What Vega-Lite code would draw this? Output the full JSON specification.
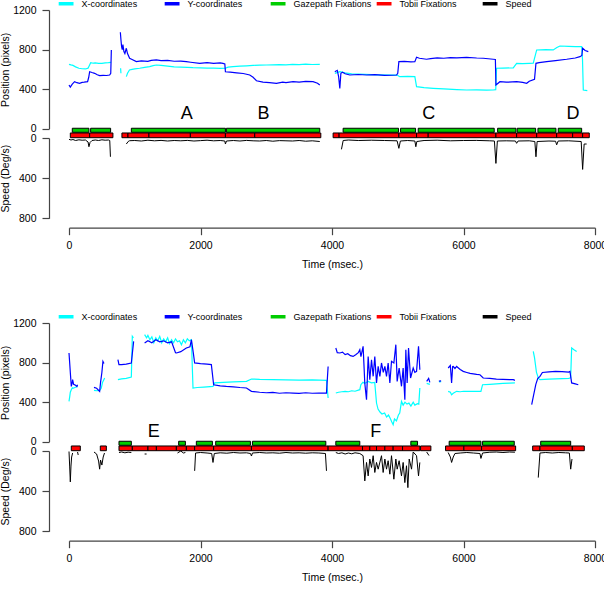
{
  "$schema": "https://vega.github.io/schema/vega-lite/v6.json",
  "padding": {"top": -6, "left": 0, "right": 0, "bottom": 0},
  "background": "white",
  "datasets": {
    "top_pos": [
      {"t":0,"v":651,"series":"X-coordinates","seg":"1"},{"t":30,"v":645,"series":"X-coordinates","seg":"1"},{"t":60,"v":640,"series":"X-coordinates","seg":"1"},{"t":100,"v":625,"series":"X-coordinates","seg":"1"},{"t":150,"v":611,"series":"X-coordinates","seg":"1"},{"t":200,"v":606,"series":"X-coordinates","seg":"1"},{"t":250,"v":604,"series":"X-coordinates","seg":"1"},{"t":290,"v":612,"series":"X-coordinates","seg":"1"},{"t":310,"v":640,"series":"X-coordinates","seg":"1"},{"t":330,"v":668,"series":"X-coordinates","seg":"1"},{"t":370,"v":662,"series":"X-coordinates","seg":"1"},{"t":400,"v":665,"series":"X-coordinates","seg":"1"},{"t":450,"v":660,"series":"X-coordinates","seg":"1"},{"t":500,"v":661,"series":"X-coordinates","seg":"1"},{"t":550,"v":666,"series":"X-coordinates","seg":"1"},{"t":600,"v":668,"series":"X-coordinates","seg":"1"},{"t":640,"v":671,"series":"X-coordinates","seg":"1"},
      {"t":785,"v":611,"series":"X-coordinates","seg":"2a"},{"t":790,"v":560,"series":"X-coordinates","seg":"2a"},
      {"t":872,"v":526,"series":"X-coordinates","seg":"2"},{"t":890,"v":560,"series":"X-coordinates","seg":"2"},{"t":920,"v":594,"series":"X-coordinates","seg":"2"},{"t":960,"v":600,"series":"X-coordinates","seg":"2"},{"t":1000,"v":605,"series":"X-coordinates","seg":"2"},{"t":1075,"v":611,"series":"X-coordinates","seg":"2"},{"t":1150,"v":620,"series":"X-coordinates","seg":"2"},{"t":1227,"v":627,"series":"X-coordinates","seg":"2"},{"t":1280,"v":637,"series":"X-coordinates","seg":"2"},{"t":1329,"v":644,"series":"X-coordinates","seg":"2"},{"t":1400,"v":640,"series":"X-coordinates","seg":"2"},{"t":1500,"v":632,"series":"X-coordinates","seg":"2"},{"t":1600,"v":625,"series":"X-coordinates","seg":"2"},{"t":1700,"v":622,"series":"X-coordinates","seg":"2"},{"t":1800,"v":620,"series":"X-coordinates","seg":"2"},{"t":1886,"v":617,"series":"X-coordinates","seg":"2"},{"t":2000,"v":615,"series":"X-coordinates","seg":"2"},{"t":2100,"v":613,"series":"X-coordinates","seg":"2"},{"t":2200,"v":612,"series":"X-coordinates","seg":"2"},{"t":2300,"v":610,"series":"X-coordinates","seg":"2"},{"t":2379,"v":611,"series":"X-coordinates","seg":"2"},{"t":2420,"v":622,"series":"X-coordinates","seg":"2"},{"t":2495,"v":627,"series":"X-coordinates","seg":"2"},{"t":2600,"v":632,"series":"X-coordinates","seg":"2"},{"t":2700,"v":636,"series":"X-coordinates","seg":"2"},{"t":2800,"v":640,"series":"X-coordinates","seg":"2"},{"t":2900,"v":643,"series":"X-coordinates","seg":"2"},{"t":3003,"v":644,"series":"X-coordinates","seg":"2"},{"t":3100,"v":646,"series":"X-coordinates","seg":"2"},{"t":3200,"v":648,"series":"X-coordinates","seg":"2"},{"t":3300,"v":645,"series":"X-coordinates","seg":"2"},{"t":3400,"v":650,"series":"X-coordinates","seg":"2"},{"t":3500,"v":648,"series":"X-coordinates","seg":"2"},{"t":3600,"v":652,"series":"X-coordinates","seg":"2"},{"t":3700,"v":649,"series":"X-coordinates","seg":"2"},{"t":3814,"v":651,"series":"X-coordinates","seg":"2"},
      {"t":4043,"v":560,"series":"X-coordinates","seg":"3"},{"t":4119,"v":576,"series":"X-coordinates","seg":"3"},{"t":4200,"v":565,"series":"X-coordinates","seg":"3"},{"t":4300,"v":555,"series":"X-coordinates","seg":"3"},{"t":4500,"v":550,"series":"X-coordinates","seg":"3"},{"t":4700,"v":545,"series":"X-coordinates","seg":"3"},{"t":4900,"v":542,"series":"X-coordinates","seg":"3"},{"t":4990,"v":543,"series":"X-coordinates","seg":"3"},{"t":5030,"v":526,"series":"X-coordinates","seg":"3"},{"t":5150,"v":528,"series":"X-coordinates","seg":"3"},{"t":5260,"v":526,"series":"X-coordinates","seg":"3"},{"t":5286,"v":425,"series":"X-coordinates","seg":"3"},{"t":5400,"v":415,"series":"X-coordinates","seg":"3"},{"t":5539,"v":408,"series":"X-coordinates","seg":"3"},{"t":5700,"v":402,"series":"X-coordinates","seg":"3"},{"t":5900,"v":395,"series":"X-coordinates","seg":"3"},{"t":6047,"v":391,"series":"X-coordinates","seg":"3"},{"t":6200,"v":393,"series":"X-coordinates","seg":"3"},{"t":6350,"v":390,"series":"X-coordinates","seg":"3"},{"t":6452,"v":391,"series":"X-coordinates","seg":"3"},{"t":6490,"v":395,"series":"X-coordinates","seg":"3"},{"t":6503,"v":611,"series":"X-coordinates","seg":"3"},{"t":6600,"v":612,"series":"X-coordinates","seg":"3"},{"t":6757,"v":615,"series":"X-coordinates","seg":"3"},{"t":6808,"v":661,"series":"X-coordinates","seg":"3"},{"t":6900,"v":658,"series":"X-coordinates","seg":"3"},{"t":7000,"v":660,"series":"X-coordinates","seg":"3"},{"t":7061,"v":662,"series":"X-coordinates","seg":"3"},{"t":7113,"v":796,"series":"X-coordinates","seg":"3"},{"t":7250,"v":800,"series":"X-coordinates","seg":"3"},{"t":7365,"v":796,"series":"X-coordinates","seg":"3"},{"t":7420,"v":820,"series":"X-coordinates","seg":"3"},{"t":7467,"v":836,"series":"X-coordinates","seg":"3"},{"t":7600,"v":832,"series":"X-coordinates","seg":"3"},{"t":7700,"v":830,"series":"X-coordinates","seg":"3"},{"t":7797,"v":829,"series":"X-coordinates","seg":"3"},{"t":7810,"v":700,"series":"X-coordinates","seg":"3"},{"t":7822,"v":391,"series":"X-coordinates","seg":"3"},{"t":7883,"v":385,"series":"X-coordinates","seg":"3"},
      {"t":0,"v":442,"series":"Y-coordinates","seg":"1"},{"t":20,"v":420,"series":"Y-coordinates","seg":"1"},{"t":50,"v":450,"series":"Y-coordinates","seg":"1"},{"t":85,"v":475,"series":"Y-coordinates","seg":"1"},{"t":120,"v":465,"series":"Y-coordinates","seg":"1"},{"t":161,"v":459,"series":"Y-coordinates","seg":"1"},{"t":200,"v":468,"series":"Y-coordinates","seg":"1"},{"t":230,"v":470,"series":"Y-coordinates","seg":"1"},{"t":283,"v":475,"series":"Y-coordinates","seg":"1"},{"t":300,"v":520,"series":"Y-coordinates","seg":"1"},{"t":314,"v":576,"series":"Y-coordinates","seg":"1"},{"t":350,"v":568,"series":"Y-coordinates","seg":"1"},{"t":390,"v":560,"series":"Y-coordinates","seg":"1"},{"t":430,"v":545,"series":"Y-coordinates","seg":"1"},{"t":466,"v":536,"series":"Y-coordinates","seg":"1"},{"t":520,"v":540,"series":"Y-coordinates","seg":"1"},{"t":570,"v":538,"series":"Y-coordinates","seg":"1"},{"t":618,"v":543,"series":"Y-coordinates","seg":"1"},{"t":635,"v":560,"series":"Y-coordinates","seg":"1"},{"t":644,"v":796,"series":"Y-coordinates","seg":"1"},
      {"t":781,"v":975,"series":"Y-coordinates","seg":"2"},{"t":790,"v":900,"series":"Y-coordinates","seg":"2"},{"t":800,"v":829,"series":"Y-coordinates","seg":"2"},{"t":810,"v":800,"series":"Y-coordinates","seg":"2"},{"t":820,"v":850,"series":"Y-coordinates","seg":"2"},{"t":835,"v":780,"series":"Y-coordinates","seg":"2"},{"t":850,"v":760,"series":"Y-coordinates","seg":"2"},{"t":872,"v":813,"series":"Y-coordinates","seg":"2"},{"t":890,"v":760,"series":"Y-coordinates","seg":"2"},{"t":922,"v":712,"series":"Y-coordinates","seg":"2"},{"t":960,"v":700,"series":"Y-coordinates","seg":"2"},{"t":1024,"v":678,"series":"Y-coordinates","seg":"2"},{"t":1100,"v":685,"series":"Y-coordinates","seg":"2"},{"t":1200,"v":680,"series":"Y-coordinates","seg":"2"},{"t":1250,"v":690,"series":"Y-coordinates","seg":"2"},{"t":1329,"v":695,"series":"Y-coordinates","seg":"2"},{"t":1400,"v":688,"series":"Y-coordinates","seg":"2"},{"t":1500,"v":690,"series":"Y-coordinates","seg":"2"},{"t":1600,"v":682,"series":"Y-coordinates","seg":"2"},{"t":1700,"v":684,"series":"Y-coordinates","seg":"2"},{"t":1785,"v":678,"series":"Y-coordinates","seg":"2"},{"t":1850,"v":672,"series":"Y-coordinates","seg":"2"},{"t":1988,"v":661,"series":"Y-coordinates","seg":"2"},{"t":2100,"v":668,"series":"Y-coordinates","seg":"2"},{"t":2200,"v":660,"series":"Y-coordinates","seg":"2"},{"t":2300,"v":665,"series":"Y-coordinates","seg":"2"},{"t":2342,"v":661,"series":"Y-coordinates","seg":"2"},{"t":2370,"v":655,"series":"Y-coordinates","seg":"2"},{"t":2379,"v":576,"series":"Y-coordinates","seg":"2"},{"t":2450,"v":572,"series":"Y-coordinates","seg":"2"},{"t":2550,"v":565,"series":"Y-coordinates","seg":"2"},{"t":2650,"v":558,"series":"Y-coordinates","seg":"2"},{"t":2749,"v":543,"series":"Y-coordinates","seg":"2"},{"t":2800,"v":520,"series":"Y-coordinates","seg":"2"},{"t":2851,"v":485,"series":"Y-coordinates","seg":"2"},{"t":2950,"v":470,"series":"Y-coordinates","seg":"2"},{"t":3050,"v":465,"series":"Y-coordinates","seg":"2"},{"t":3155,"v":459,"series":"Y-coordinates","seg":"2"},{"t":3250,"v":470,"series":"Y-coordinates","seg":"2"},{"t":3300,"v":465,"series":"Y-coordinates","seg":"2"},{"t":3408,"v":475,"series":"Y-coordinates","seg":"2"},{"t":3500,"v":470,"series":"Y-coordinates","seg":"2"},{"t":3600,"v":478,"series":"Y-coordinates","seg":"2"},{"t":3712,"v":475,"series":"Y-coordinates","seg":"2"},{"t":3780,"v":460,"series":"Y-coordinates","seg":"2"},{"t":3814,"v":442,"series":"Y-coordinates","seg":"2"},
      {"t":4043,"v":576,"series":"Y-coordinates","seg":"3"},{"t":4080,"v":590,"series":"Y-coordinates","seg":"3"},{"t":4100,"v":530,"series":"Y-coordinates","seg":"3"},{"t":4119,"v":408,"series":"Y-coordinates","seg":"3"},{"t":4135,"v":560,"series":"Y-coordinates","seg":"3"},{"t":4160,"v":570,"series":"Y-coordinates","seg":"3"},{"t":4200,"v":555,"series":"Y-coordinates","seg":"3"},{"t":4271,"v":543,"series":"Y-coordinates","seg":"3"},{"t":4400,"v":548,"series":"Y-coordinates","seg":"3"},{"t":4525,"v":543,"series":"Y-coordinates","seg":"3"},{"t":4650,"v":546,"series":"Y-coordinates","seg":"3"},{"t":4800,"v":540,"series":"Y-coordinates","seg":"3"},{"t":4982,"v":543,"series":"Y-coordinates","seg":"3"},{"t":5000,"v":560,"series":"Y-coordinates","seg":"3"},{"t":5017,"v":678,"series":"Y-coordinates","seg":"3"},{"t":5100,"v":680,"series":"Y-coordinates","seg":"3"},{"t":5200,"v":676,"series":"Y-coordinates","seg":"3"},{"t":5260,"v":678,"series":"Y-coordinates","seg":"3"},{"t":5286,"v":722,"series":"Y-coordinates","seg":"3"},{"t":5330,"v":712,"series":"Y-coordinates","seg":"3"},{"t":5438,"v":702,"series":"Y-coordinates","seg":"3"},{"t":5500,"v":708,"series":"Y-coordinates","seg":"3"},{"t":5600,"v":715,"series":"Y-coordinates","seg":"3"},{"t":5700,"v":712,"series":"Y-coordinates","seg":"3"},{"t":5800,"v":718,"series":"Y-coordinates","seg":"3"},{"t":5900,"v":716,"series":"Y-coordinates","seg":"3"},{"t":6047,"v":722,"series":"Y-coordinates","seg":"3"},{"t":6200,"v":715,"series":"Y-coordinates","seg":"3"},{"t":6300,"v":712,"series":"Y-coordinates","seg":"3"},{"t":6452,"v":702,"series":"Y-coordinates","seg":"3"},{"t":6485,"v":700,"series":"Y-coordinates","seg":"3"},{"t":6493,"v":442,"series":"Y-coordinates","seg":"3"},{"t":6554,"v":475,"series":"Y-coordinates","seg":"3"},{"t":6650,"v":470,"series":"Y-coordinates","seg":"3"},{"t":6808,"v":475,"series":"Y-coordinates","seg":"3"},{"t":6900,"v":468,"series":"Y-coordinates","seg":"3"},{"t":6961,"v":459,"series":"Y-coordinates","seg":"3"},{"t":7000,"v":480,"series":"Y-coordinates","seg":"3"},{"t":7080,"v":500,"series":"Y-coordinates","seg":"3"},{"t":7102,"v":661,"series":"Y-coordinates","seg":"3"},{"t":7150,"v":668,"series":"Y-coordinates","seg":"3"},{"t":7265,"v":678,"series":"Y-coordinates","seg":"3"},{"t":7400,"v":688,"series":"Y-coordinates","seg":"3"},{"t":7569,"v":702,"series":"Y-coordinates","seg":"3"},{"t":7700,"v":715,"series":"Y-coordinates","seg":"3"},{"t":7771,"v":728,"series":"Y-coordinates","seg":"3"},{"t":7800,"v":740,"series":"Y-coordinates","seg":"3"},{"t":7812,"v":813,"series":"Y-coordinates","seg":"3"},{"t":7850,"v":790,"series":"Y-coordinates","seg":"3"},{"t":7898,"v":779,"series":"Y-coordinates","seg":"3"}
    ],
    "top_speed": [
      {"t":0,"v":13,"seg":"1"},{"t":30,"v":20,"seg":"1"},{"t":60,"v":15,"seg":"1"},{"t":100,"v":25,"seg":"1"},{"t":150,"v":18,"seg":"1"},{"t":200,"v":22,"seg":"1"},{"t":250,"v":20,"seg":"1"},{"t":290,"v":40,"seg":"1"},{"t":303,"v":87,"seg":"1"},{"t":320,"v":45,"seg":"1"},{"t":350,"v":25,"seg":"1"},{"t":400,"v":20,"seg":"1"},{"t":450,"v":25,"seg":"1"},{"t":500,"v":18,"seg":"1"},{"t":550,"v":22,"seg":"1"},{"t":600,"v":20,"seg":"1"},{"t":620,"v":25,"seg":"1"},{"t":630,"v":187,"seg":"1"},
      {"t":872,"v":60,"seg":"2"},{"t":900,"v":35,"seg":"2"},{"t":922,"v":27,"seg":"2"},{"t":1000,"v":25,"seg":"2"},{"t":1100,"v":30,"seg":"2"},{"t":1200,"v":22,"seg":"2"},{"t":1300,"v":28,"seg":"2"},{"t":1400,"v":24,"seg":"2"},{"t":1500,"v":30,"seg":"2"},{"t":1600,"v":25,"seg":"2"},{"t":1700,"v":28,"seg":"2"},{"t":1800,"v":24,"seg":"2"},{"t":1900,"v":30,"seg":"2"},{"t":2000,"v":26,"seg":"2"},{"t":2100,"v":22,"seg":"2"},{"t":2200,"v":28,"seg":"2"},{"t":2300,"v":25,"seg":"2"},{"t":2370,"v":30,"seg":"2"},{"t":2379,"v":60,"seg":"2"},{"t":2395,"v":30,"seg":"2"},{"t":2500,"v":25,"seg":"2"},{"t":2600,"v":30,"seg":"2"},{"t":2700,"v":24,"seg":"2"},{"t":2800,"v":28,"seg":"2"},{"t":2900,"v":30,"seg":"2"},{"t":3000,"v":25,"seg":"2"},{"t":3100,"v":32,"seg":"2"},{"t":3200,"v":26,"seg":"2"},{"t":3300,"v":28,"seg":"2"},{"t":3400,"v":30,"seg":"2"},{"t":3500,"v":25,"seg":"2"},{"t":3600,"v":32,"seg":"2"},{"t":3700,"v":28,"seg":"2"},{"t":3814,"v":35,"seg":"2"},
      {"t":4144,"v":113,"seg":"3"},{"t":4170,"v":25,"seg":"3"},{"t":4250,"v":20,"seg":"3"},{"t":4400,"v":25,"seg":"3"},{"t":4600,"v":22,"seg":"3"},{"t":4800,"v":25,"seg":"3"},{"t":4990,"v":28,"seg":"3"},{"t":5017,"v":103,"seg":"3"},{"t":5040,"v":30,"seg":"3"},{"t":5150,"v":25,"seg":"3"},{"t":5260,"v":30,"seg":"3"},{"t":5275,"v":87,"seg":"3"},{"t":5290,"v":35,"seg":"3"},{"t":5400,"v":25,"seg":"3"},{"t":5600,"v":22,"seg":"3"},{"t":5800,"v":28,"seg":"3"},{"t":6000,"v":25,"seg":"3"},{"t":6200,"v":24,"seg":"3"},{"t":6400,"v":28,"seg":"3"},{"t":6470,"v":30,"seg":"3"},{"t":6493,"v":253,"seg":"3"},{"t":6515,"v":30,"seg":"3"},{"t":6650,"v":28,"seg":"3"},{"t":6790,"v":30,"seg":"3"},{"t":6808,"v":53,"seg":"3"},{"t":6830,"v":30,"seg":"3"},{"t":7000,"v":28,"seg":"3"},{"t":7085,"v":35,"seg":"3"},{"t":7102,"v":187,"seg":"3"},{"t":7120,"v":35,"seg":"3"},{"t":7300,"v":30,"seg":"3"},{"t":7400,"v":32,"seg":"3"},{"t":7417,"v":68,"seg":"3"},{"t":7440,"v":30,"seg":"3"},{"t":7600,"v":28,"seg":"3"},{"t":7790,"v":35,"seg":"3"},{"t":7812,"v":313,"seg":"3"},{"t":7835,"v":60,"seg":"3"},{"t":7873,"v":60,"seg":"3"}
    ],
    "top_fix": [
      {"series":"Gazepath Fixations","start":50,"end":303},{"series":"Gazepath Fixations","start":329,"end":633},{"series":"Gazepath Fixations","start":948,"end":2379},{"series":"Gazepath Fixations","start":2394,"end":3814},{"series":"Gazepath Fixations","start":4169,"end":5012},{"series":"Gazepath Fixations","start":5043,"end":5271},{"series":"Gazepath Fixations","start":5311,"end":6467},{"series":"Gazepath Fixations","start":6519,"end":6798},{"series":"Gazepath Fixations","start":6817,"end":7097},{"series":"Gazepath Fixations","start":7132,"end":7406},{"series":"Gazepath Fixations","start":7441,"end":7797},
      {"series":"Tobii Fixations","start":20,"end":314},{"series":"Tobii Fixations","start":314,"end":668},{"series":"Tobii Fixations","start":805,"end":897},{"series":"Tobii Fixations","start":897,"end":1216},{"series":"Tobii Fixations","start":1216,"end":1846},{"series":"Tobii Fixations","start":1846,"end":2379},{"series":"Tobii Fixations","start":2379,"end":2825},{"series":"Tobii Fixations","start":2825,"end":3830},{"series":"Tobii Fixations","start":4017,"end":4108},{"series":"Tobii Fixations","start":4108,"end":5017},{"series":"Tobii Fixations","start":5017,"end":5286},{"series":"Tobii Fixations","start":5286,"end":5463},{"series":"Tobii Fixations","start":5463,"end":6493},{"series":"Tobii Fixations","start":6493,"end":6808},{"series":"Tobii Fixations","start":6808,"end":7113},{"series":"Tobii Fixations","start":7113,"end":7417},{"series":"Tobii Fixations","start":7417,"end":7660},{"series":"Tobii Fixations","start":7660,"end":7812},{"series":"Tobii Fixations","start":7812,"end":7913}
    ],
    "top_lab": [
      {"t":1790,"v":149,"label":"A"},{"t":2960,"v":149,"label":"B"},{"t":5473,"v":149,"label":"C"},{"t":7665,"v":149,"label":"D"}
    ],
    "bot_pos": [
      {"t":0,"v":407,"series":"X-coordinates","seg":"1"},{"t":10,"v":450,"series":"X-coordinates","seg":"1"},{"t":20,"v":500,"series":"X-coordinates","seg":"1"},{"t":35,"v":526,"series":"X-coordinates","seg":"1"},{"t":50,"v":545,"series":"X-coordinates","seg":"1"},{"t":60,"v":540,"series":"X-coordinates","seg":"1"},{"t":90,"v":548,"series":"X-coordinates","seg":"1"},{"t":120,"v":556,"series":"X-coordinates","seg":"1"},{"t":130,"v":560,"series":"X-coordinates","seg":"1"},
      {"t":380,"v":519,"series":"X-coordinates","seg":"2"},{"t":420,"v":515,"series":"X-coordinates","seg":"2"},{"t":466,"v":519,"series":"X-coordinates","seg":"2"},{"t":490,"v":540,"series":"X-coordinates","seg":"2"},{"t":510,"v":600,"series":"X-coordinates","seg":"2"},{"t":530,"v":627,"series":"X-coordinates","seg":"2"},{"t":542,"v":644,"series":"X-coordinates","seg":"2"},
      {"t":744,"v":627,"series":"X-coordinates","seg":"3"},{"t":800,"v":635,"series":"X-coordinates","seg":"3"},{"t":870,"v":640,"series":"X-coordinates","seg":"3"},{"t":948,"v":654,"series":"X-coordinates","seg":"3"},{"t":963,"v":1065,"series":"X-coordinates","seg":"3"},{"t":980,"v":1050,"series":"X-coordinates","seg":"3"},
      {"t":1150,"v":1082,"series":"X-coordinates","seg":"4"},{"t":1180,"v":1050,"series":"X-coordinates","seg":"4"},{"t":1200,"v":1075,"series":"X-coordinates","seg":"4"},{"t":1230,"v":1030,"series":"X-coordinates","seg":"4"},{"t":1260,"v":1060,"series":"X-coordinates","seg":"4"},{"t":1290,"v":1000,"series":"X-coordinates","seg":"4"},{"t":1320,"v":1050,"series":"X-coordinates","seg":"4"},{"t":1350,"v":1020,"series":"X-coordinates","seg":"4"},{"t":1380,"v":1065,"series":"X-coordinates","seg":"4"},{"t":1410,"v":1000,"series":"X-coordinates","seg":"4"},{"t":1440,"v":1040,"series":"X-coordinates","seg":"4"},{"t":1470,"v":1010,"series":"X-coordinates","seg":"4"},{"t":1500,"v":1050,"series":"X-coordinates","seg":"4"},{"t":1530,"v":990,"series":"X-coordinates","seg":"4"},{"t":1560,"v":1030,"series":"X-coordinates","seg":"4"},{"t":1590,"v":1000,"series":"X-coordinates","seg":"4"},{"t":1620,"v":1040,"series":"X-coordinates","seg":"4"},{"t":1650,"v":1010,"series":"X-coordinates","seg":"4"},{"t":1680,"v":1020,"series":"X-coordinates","seg":"4"},{"t":1710,"v":980,"series":"X-coordinates","seg":"4"},{"t":1740,"v":1030,"series":"X-coordinates","seg":"4"},{"t":1770,"v":1000,"series":"X-coordinates","seg":"4"},{"t":1800,"v":1040,"series":"X-coordinates","seg":"4"},{"t":1830,"v":1020,"series":"X-coordinates","seg":"4"},{"t":1862,"v":1031,"series":"X-coordinates","seg":"4"},{"t":1886,"v":543,"series":"X-coordinates","seg":"4"},{"t":1950,"v":548,"series":"X-coordinates","seg":"4"},{"t":2050,"v":552,"series":"X-coordinates","seg":"4"},{"t":2190,"v":559,"series":"X-coordinates","seg":"4"},{"t":2216,"v":594,"series":"X-coordinates","seg":"4"},{"t":2350,"v":600,"series":"X-coordinates","seg":"4"},{"t":2500,"v":605,"series":"X-coordinates","seg":"4"},{"t":2699,"v":610,"series":"X-coordinates","seg":"4"},{"t":2775,"v":634,"series":"X-coordinates","seg":"4"},{"t":2900,"v":630,"series":"X-coordinates","seg":"4"},{"t":3100,"v":628,"series":"X-coordinates","seg":"4"},{"t":3300,"v":625,"series":"X-coordinates","seg":"4"},{"t":3500,"v":622,"series":"X-coordinates","seg":"4"},{"t":3700,"v":625,"series":"X-coordinates","seg":"4"},{"t":3916,"v":620,"series":"X-coordinates","seg":"4"},{"t":3941,"v":442,"series":"X-coordinates","seg":"4"},
      {"t":4058,"v":492,"series":"X-coordinates","seg":"5"},{"t":4100,"v":500,"series":"X-coordinates","seg":"5"},{"t":4150,"v":505,"series":"X-coordinates","seg":"5"},{"t":4200,"v":509,"series":"X-coordinates","seg":"5"},{"t":4250,"v":505,"series":"X-coordinates","seg":"5"},{"t":4300,"v":515,"series":"X-coordinates","seg":"5"},{"t":4350,"v":510,"series":"X-coordinates","seg":"5"},{"t":4423,"v":526,"series":"X-coordinates","seg":"5"},{"t":4439,"v":576,"series":"X-coordinates","seg":"5"},{"t":4470,"v":600,"series":"X-coordinates","seg":"5"},{"t":4500,"v":590,"series":"X-coordinates","seg":"5"},{"t":4550,"v":610,"series":"X-coordinates","seg":"5"},{"t":4600,"v":595,"series":"X-coordinates","seg":"5"},{"t":4650,"v":600,"series":"X-coordinates","seg":"5"},{"t":4677,"v":391,"series":"X-coordinates","seg":"5"},{"t":4700,"v":330,"series":"X-coordinates","seg":"5"},{"t":4730,"v":300,"series":"X-coordinates","seg":"5"},{"t":4760,"v":280,"series":"X-coordinates","seg":"5"},{"t":4800,"v":290,"series":"X-coordinates","seg":"5"},{"t":4830,"v":250,"series":"X-coordinates","seg":"5"},{"t":4860,"v":270,"series":"X-coordinates","seg":"5"},{"t":4890,"v":230,"series":"X-coordinates","seg":"5"},{"t":4910,"v":200,"series":"X-coordinates","seg":"5"},{"t":4930,"v":172,"series":"X-coordinates","seg":"5"},{"t":4950,"v":230,"series":"X-coordinates","seg":"5"},{"t":4980,"v":210,"series":"X-coordinates","seg":"5"},{"t":5010,"v":270,"series":"X-coordinates","seg":"5"},{"t":5030,"v":290,"series":"X-coordinates","seg":"5"},{"t":5057,"v":407,"series":"X-coordinates","seg":"5"},{"t":5082,"v":370,"series":"X-coordinates","seg":"5"},{"t":5110,"v":400,"series":"X-coordinates","seg":"5"},{"t":5140,"v":380,"series":"X-coordinates","seg":"5"},{"t":5170,"v":390,"series":"X-coordinates","seg":"5"},{"t":5200,"v":360,"series":"X-coordinates","seg":"5"},{"t":5235,"v":400,"series":"X-coordinates","seg":"5"},{"t":5260,"v":370,"series":"X-coordinates","seg":"5"},{"t":5300,"v":385,"series":"X-coordinates","seg":"5"},{"t":5320,"v":380,"series":"X-coordinates","seg":"5"},{"t":5336,"v":543,"series":"X-coordinates","seg":"5"},
      {"t":5440,"v":590,"series":"X-coordinates","seg":"6"},{"t":5488,"v":580,"series":"X-coordinates","seg":"6"},
      {"t":5626,"v":605,"series":"X-coordinates","seg":"7"},{"t":5660,"v":608,"series":"X-coordinates","seg":"7"},
      {"t":5767,"v":509,"series":"X-coordinates","seg":"8"},{"t":5800,"v":500,"series":"X-coordinates","seg":"8"},{"t":5819,"v":475,"series":"X-coordinates","seg":"8"},{"t":5844,"v":490,"series":"X-coordinates","seg":"8"},{"t":5895,"v":509,"series":"X-coordinates","seg":"8"},{"t":5950,"v":505,"series":"X-coordinates","seg":"8"},{"t":6000,"v":510,"series":"X-coordinates","seg":"8"},{"t":6100,"v":508,"series":"X-coordinates","seg":"8"},{"t":6200,"v":510,"series":"X-coordinates","seg":"8"},{"t":6265,"v":509,"series":"X-coordinates","seg":"8"},{"t":6290,"v":576,"series":"X-coordinates","seg":"8"},{"t":6400,"v":580,"series":"X-coordinates","seg":"8"},{"t":6500,"v":585,"series":"X-coordinates","seg":"8"},{"t":6600,"v":590,"series":"X-coordinates","seg":"8"},{"t":6700,"v":592,"series":"X-coordinates","seg":"8"},{"t":6782,"v":594,"series":"X-coordinates","seg":"8"},
      {"t":7061,"v":913,"series":"X-coordinates","seg":"9"},{"t":7080,"v":850,"series":"X-coordinates","seg":"9"},{"t":7110,"v":700,"series":"X-coordinates","seg":"9"},{"t":7140,"v":640,"series":"X-coordinates","seg":"9"},{"t":7163,"v":627,"series":"X-coordinates","seg":"9"},{"t":7300,"v":632,"series":"X-coordinates","seg":"9"},{"t":7400,"v":635,"series":"X-coordinates","seg":"9"},{"t":7500,"v":638,"series":"X-coordinates","seg":"9"},{"t":7600,"v":640,"series":"X-coordinates","seg":"9"},{"t":7630,"v":645,"series":"X-coordinates","seg":"9"},{"t":7645,"v":947,"series":"X-coordinates","seg":"9"},{"t":7680,"v":930,"series":"X-coordinates","seg":"9"},{"t":7721,"v":913,"series":"X-coordinates","seg":"9"},
      {"t":0,"v":897,"series":"Y-coordinates","seg":"1"},{"t":10,"v":800,"series":"Y-coordinates","seg":"1"},{"t":20,"v":700,"series":"Y-coordinates","seg":"1"},{"t":35,"v":559,"series":"Y-coordinates","seg":"1"},{"t":50,"v":600,"series":"Y-coordinates","seg":"1"},{"t":55,"v":627,"series":"Y-coordinates","seg":"1"},{"t":70,"v":580,"series":"Y-coordinates","seg":"1"},{"t":100,"v":570,"series":"Y-coordinates","seg":"1"},{"t":120,"v":559,"series":"Y-coordinates","seg":"1"},{"t":130,"v":575,"series":"Y-coordinates","seg":"1"},
      {"t":380,"v":549,"series":"Y-coordinates","seg":"2"},{"t":420,"v":540,"series":"Y-coordinates","seg":"2"},{"t":466,"v":509,"series":"Y-coordinates","seg":"2"},{"t":480,"v":600,"series":"Y-coordinates","seg":"2"},{"t":500,"v":700,"series":"Y-coordinates","seg":"2"},{"t":516,"v":812,"series":"Y-coordinates","seg":"2"},{"t":532,"v":790,"series":"Y-coordinates","seg":"2"},
      {"t":744,"v":829,"series":"Y-coordinates","seg":"3"},{"t":760,"v":780,"series":"Y-coordinates","seg":"3"},{"t":800,"v":779,"series":"Y-coordinates","seg":"3"},{"t":870,"v":785,"series":"Y-coordinates","seg":"3"},{"t":948,"v":796,"series":"Y-coordinates","seg":"3"},{"t":983,"v":1014,"series":"Y-coordinates","seg":"3"},
      {"t":1150,"v":998,"series":"Y-coordinates","seg":"4"},{"t":1200,"v":1020,"series":"Y-coordinates","seg":"4"},{"t":1260,"v":1000,"series":"Y-coordinates","seg":"4"},{"t":1320,"v":1030,"series":"Y-coordinates","seg":"4"},{"t":1380,"v":1010,"series":"Y-coordinates","seg":"4"},{"t":1440,"v":1020,"series":"Y-coordinates","seg":"4"},{"t":1500,"v":1000,"series":"Y-coordinates","seg":"4"},{"t":1560,"v":1010,"series":"Y-coordinates","seg":"4"},{"t":1620,"v":900,"series":"Y-coordinates","seg":"4"},{"t":1635,"v":897,"series":"Y-coordinates","seg":"4"},{"t":1700,"v":910,"series":"Y-coordinates","seg":"4"},{"t":1785,"v":947,"series":"Y-coordinates","seg":"4"},{"t":1840,"v":960,"series":"Y-coordinates","seg":"4"},{"t":1862,"v":1031,"series":"Y-coordinates","seg":"4"},{"t":1890,"v":900,"series":"Y-coordinates","seg":"4"},{"t":1911,"v":796,"series":"Y-coordinates","seg":"4"},{"t":2000,"v":790,"series":"Y-coordinates","seg":"4"},{"t":2100,"v":785,"series":"Y-coordinates","seg":"4"},{"t":2165,"v":779,"series":"Y-coordinates","seg":"4"},{"t":2200,"v":576,"series":"Y-coordinates","seg":"4"},{"t":2300,"v":565,"series":"Y-coordinates","seg":"4"},{"t":2394,"v":559,"series":"Y-coordinates","seg":"4"},{"t":2500,"v":555,"series":"Y-coordinates","seg":"4"},{"t":2600,"v":548,"series":"Y-coordinates","seg":"4"},{"t":2699,"v":543,"series":"Y-coordinates","seg":"4"},{"t":2775,"v":509,"series":"Y-coordinates","seg":"4"},{"t":2900,"v":500,"series":"Y-coordinates","seg":"4"},{"t":3000,"v":495,"series":"Y-coordinates","seg":"4"},{"t":3100,"v":498,"series":"Y-coordinates","seg":"4"},{"t":3200,"v":490,"series":"Y-coordinates","seg":"4"},{"t":3300,"v":495,"series":"Y-coordinates","seg":"4"},{"t":3408,"v":492,"series":"Y-coordinates","seg":"4"},{"t":3500,"v":488,"series":"Y-coordinates","seg":"4"},{"t":3600,"v":495,"series":"Y-coordinates","seg":"4"},{"t":3700,"v":490,"series":"Y-coordinates","seg":"4"},{"t":3800,"v":492,"series":"Y-coordinates","seg":"4"},{"t":3916,"v":492,"series":"Y-coordinates","seg":"4"},{"t":3941,"v":761,"series":"Y-coordinates","seg":"4"},
      {"t":4058,"v":947,"series":"Y-coordinates","seg":"5"},{"t":4080,"v":900,"series":"Y-coordinates","seg":"5"},{"t":4120,"v":897,"series":"Y-coordinates","seg":"5"},{"t":4160,"v":905,"series":"Y-coordinates","seg":"5"},{"t":4200,"v":880,"series":"Y-coordinates","seg":"5"},{"t":4240,"v":890,"series":"Y-coordinates","seg":"5"},{"t":4280,"v":870,"series":"Y-coordinates","seg":"5"},{"t":4321,"v":862,"series":"Y-coordinates","seg":"5"},{"t":4360,"v":880,"series":"Y-coordinates","seg":"5"},{"t":4400,"v":900,"series":"Y-coordinates","seg":"5"},{"t":4423,"v":930,"series":"Y-coordinates","seg":"5"},{"t":4440,"v":860,"series":"Y-coordinates","seg":"5"},{"t":4473,"v":964,"series":"Y-coordinates","seg":"5"},{"t":4499,"v":590,"series":"Y-coordinates","seg":"5"},{"t":4525,"v":424,"series":"Y-coordinates","seg":"5"},{"t":4550,"v":862,"series":"Y-coordinates","seg":"5"},{"t":4575,"v":627,"series":"Y-coordinates","seg":"5"},{"t":4601,"v":829,"series":"Y-coordinates","seg":"5"},{"t":4626,"v":661,"series":"Y-coordinates","seg":"5"},{"t":4651,"v":862,"series":"Y-coordinates","seg":"5"},{"t":4677,"v":594,"series":"Y-coordinates","seg":"5"},{"t":4702,"v":761,"series":"Y-coordinates","seg":"5"},{"t":4728,"v":660,"series":"Y-coordinates","seg":"5"},{"t":4753,"v":796,"series":"Y-coordinates","seg":"5"},{"t":4780,"v":700,"series":"Y-coordinates","seg":"5"},{"t":4804,"v":761,"series":"Y-coordinates","seg":"5"},{"t":4829,"v":660,"series":"Y-coordinates","seg":"5"},{"t":4854,"v":796,"series":"Y-coordinates","seg":"5"},{"t":4880,"v":594,"series":"Y-coordinates","seg":"5"},{"t":4905,"v":813,"series":"Y-coordinates","seg":"5"},{"t":4941,"v":796,"series":"Y-coordinates","seg":"5"},{"t":4971,"v":981,"series":"Y-coordinates","seg":"5"},{"t":4991,"v":610,"series":"Y-coordinates","seg":"5"},{"t":5021,"v":745,"series":"Y-coordinates","seg":"5"},{"t":5057,"v":560,"series":"Y-coordinates","seg":"5"},{"t":5082,"v":745,"series":"Y-coordinates","seg":"5"},{"t":5108,"v":424,"series":"Y-coordinates","seg":"5"},{"t":5123,"v":930,"series":"Y-coordinates","seg":"5"},{"t":5143,"v":594,"series":"Y-coordinates","seg":"5"},{"t":5164,"v":947,"series":"Y-coordinates","seg":"5"},{"t":5195,"v":644,"series":"Y-coordinates","seg":"5"},{"t":5235,"v":745,"series":"Y-coordinates","seg":"5"},{"t":5260,"v":700,"series":"Y-coordinates","seg":"5"},{"t":5286,"v":711,"series":"Y-coordinates","seg":"5"},{"t":5316,"v":964,"series":"Y-coordinates","seg":"5"},{"t":5336,"v":728,"series":"Y-coordinates","seg":"5"},
      {"t":5440,"v":610,"series":"Y-coordinates","seg":"6"},{"t":5470,"v":640,"series":"Y-coordinates","seg":"6"},{"t":5488,"v":600,"series":"Y-coordinates","seg":"6"},
      {"t":5626,"v":612,"series":"Y-coordinates","seg":"7"},{"t":5660,"v":615,"series":"Y-coordinates","seg":"7"},
      {"t":5767,"v":745,"series":"Y-coordinates","seg":"8"},{"t":5800,"v":770,"series":"Y-coordinates","seg":"8"},{"t":5819,"v":594,"series":"Y-coordinates","seg":"8"},{"t":5835,"v":760,"series":"Y-coordinates","seg":"8"},{"t":5844,"v":761,"series":"Y-coordinates","seg":"8"},{"t":5870,"v":740,"series":"Y-coordinates","seg":"8"},{"t":5895,"v":761,"series":"Y-coordinates","seg":"8"},{"t":5950,"v":730,"series":"Y-coordinates","seg":"8"},{"t":5996,"v":711,"series":"Y-coordinates","seg":"8"},{"t":6050,"v":700,"series":"Y-coordinates","seg":"8"},{"t":6100,"v":690,"series":"Y-coordinates","seg":"8"},{"t":6150,"v":685,"series":"Y-coordinates","seg":"8"},{"t":6200,"v":680,"series":"Y-coordinates","seg":"8"},{"t":6250,"v":677,"series":"Y-coordinates","seg":"8"},{"t":6300,"v":644,"series":"Y-coordinates","seg":"8"},{"t":6400,"v":640,"series":"Y-coordinates","seg":"8"},{"t":6500,"v":632,"series":"Y-coordinates","seg":"8"},{"t":6600,"v":630,"series":"Y-coordinates","seg":"8"},{"t":6700,"v":628,"series":"Y-coordinates","seg":"8"},{"t":6757,"v":627,"series":"Y-coordinates","seg":"8"},{"t":6782,"v":620,"series":"Y-coordinates","seg":"8"},
      {"t":7037,"v":374,"series":"Y-coordinates","seg":"9"},{"t":7060,"v":450,"series":"Y-coordinates","seg":"9"},{"t":7100,"v":580,"series":"Y-coordinates","seg":"9"},{"t":7130,"v":640,"series":"Y-coordinates","seg":"9"},{"t":7163,"v":661,"series":"Y-coordinates","seg":"9"},{"t":7200,"v":700,"series":"Y-coordinates","seg":"9"},{"t":7300,"v":705,"series":"Y-coordinates","seg":"9"},{"t":7400,"v":711,"series":"Y-coordinates","seg":"9"},{"t":7500,"v":708,"series":"Y-coordinates","seg":"9"},{"t":7600,"v":704,"series":"Y-coordinates","seg":"9"},{"t":7619,"v":711,"series":"Y-coordinates","seg":"9"},{"t":7645,"v":594,"series":"Y-coordinates","seg":"9"},{"t":7700,"v":585,"series":"Y-coordinates","seg":"9"},{"t":7746,"v":576,"series":"Y-coordinates","seg":"9"}
    ],
    "bot_speed": [
      {"t":0,"v":5,"seg":"1"},{"t":10,"v":150,"seg":"1"},{"t":20,"v":308,"seg":"1"},{"t":30,"v":150,"seg":"1"},{"t":40,"v":60,"seg":"1"},{"t":55,"v":20,"seg":"1"},
      {"t":130,"v":10,"seg":"1b"},{"t":140,"v":40,"seg":"1b"},
      {"t":380,"v":10,"seg":"2"},{"t":420,"v":30,"seg":"2"},{"t":450,"v":100,"seg":"2"},{"t":466,"v":181,"seg":"2"},{"t":480,"v":90,"seg":"2"},{"t":500,"v":140,"seg":"2"},{"t":520,"v":60,"seg":"2"},{"t":540,"v":20,"seg":"2"},
      {"t":760,"v":15,"seg":"3"},{"t":800,"v":10,"seg":"3"},{"t":850,"v":18,"seg":"3"},{"t":900,"v":12,"seg":"3"},{"t":948,"v":15,"seg":"3"},
      {"t":1150,"v":30,"seg":"3b"},{"t":1180,"v":30,"seg":"3b"},
      {"t":1650,"v":20,"seg":"4"},{"t":1700,"v":0,"seg":"4"},{"t":1740,"v":20,"seg":"4"},{"t":1770,"v":15,"seg":"4"},
      {"t":1911,"v":198,"seg":"5"},{"t":1925,"v":20,"seg":"5"},{"t":2000,"v":15,"seg":"5"},{"t":2100,"v":20,"seg":"5"},{"t":2170,"v":25,"seg":"5"},{"t":2190,"v":114,"seg":"5"},{"t":2210,"v":25,"seg":"5"},{"t":2300,"v":18,"seg":"5"},{"t":2400,"v":22,"seg":"5"},{"t":2500,"v":15,"seg":"5"},{"t":2600,"v":20,"seg":"5"},{"t":2700,"v":18,"seg":"5"},{"t":2760,"v":25,"seg":"5"},{"t":2775,"v":50,"seg":"5"},{"t":2790,"v":20,"seg":"5"},{"t":2900,"v":15,"seg":"5"},{"t":3000,"v":20,"seg":"5"},{"t":3100,"v":18,"seg":"5"},{"t":3200,"v":22,"seg":"5"},{"t":3300,"v":15,"seg":"5"},{"t":3400,"v":20,"seg":"5"},{"t":3500,"v":18,"seg":"5"},{"t":3600,"v":22,"seg":"5"},{"t":3700,"v":18,"seg":"5"},{"t":3800,"v":20,"seg":"5"},{"t":3900,"v":25,"seg":"5"},{"t":3916,"v":198,"seg":"5"},
      {"t":4058,"v":15,"seg":"6"},{"t":4100,"v":25,"seg":"6"},{"t":4150,"v":18,"seg":"6"},{"t":4200,"v":30,"seg":"6"},{"t":4250,"v":20,"seg":"6"},{"t":4300,"v":28,"seg":"6"},{"t":4350,"v":18,"seg":"6"},{"t":4423,"v":25,"seg":"6"},{"t":4473,"v":47,"seg":"6"},{"t":4499,"v":298,"seg":"6"},{"t":4525,"v":114,"seg":"6"},{"t":4550,"v":248,"seg":"6"},{"t":4575,"v":80,"seg":"6"},{"t":4601,"v":164,"seg":"6"},{"t":4626,"v":47,"seg":"6"},{"t":4651,"v":214,"seg":"6"},{"t":4677,"v":114,"seg":"6"},{"t":4702,"v":181,"seg":"6"},{"t":4753,"v":47,"seg":"6"},{"t":4778,"v":214,"seg":"6"},{"t":4804,"v":80,"seg":"6"},{"t":4829,"v":181,"seg":"6"},{"t":4854,"v":97,"seg":"6"},{"t":4880,"v":231,"seg":"6"},{"t":4905,"v":47,"seg":"6"},{"t":4941,"v":281,"seg":"6"},{"t":4971,"v":80,"seg":"6"},{"t":4991,"v":181,"seg":"6"},{"t":5021,"v":97,"seg":"6"},{"t":5057,"v":248,"seg":"6"},{"t":5082,"v":114,"seg":"6"},{"t":5108,"v":315,"seg":"6"},{"t":5133,"v":147,"seg":"6"},{"t":5154,"v":365,"seg":"6"},{"t":5174,"v":80,"seg":"6"},{"t":5210,"v":181,"seg":"6"},{"t":5235,"v":10,"seg":"6"},{"t":5286,"v":47,"seg":"6"},{"t":5316,"v":248,"seg":"6"},{"t":5336,"v":114,"seg":"6"},
      {"t":5440,"v":10,"seg":"7"},{"t":5475,"v":45,"seg":"7"},
      {"t":5767,"v":15,"seg":"8"},{"t":5800,"v":60,"seg":"8"},{"t":5819,"v":114,"seg":"8"},{"t":5844,"v":60,"seg":"8"},{"t":5870,"v":25,"seg":"8"},{"t":5950,"v":20,"seg":"8"},{"t":6050,"v":15,"seg":"8"},{"t":6150,"v":20,"seg":"8"},{"t":6250,"v":25,"seg":"8"},{"t":6265,"v":74,"seg":"8"},{"t":6290,"v":20,"seg":"8"},{"t":6400,"v":12,"seg":"8"},{"t":6500,"v":10,"seg":"8"},{"t":6600,"v":15,"seg":"8"},{"t":6700,"v":10,"seg":"8"},{"t":6782,"v":12,"seg":"8"},
      {"t":7137,"v":265,"seg":"9"},{"t":7163,"v":20,"seg":"9"},{"t":7250,"v":15,"seg":"9"},{"t":7350,"v":20,"seg":"9"},{"t":7450,"v":15,"seg":"9"},{"t":7550,"v":18,"seg":"9"},{"t":7610,"v":20,"seg":"9"},{"t":7630,"v":181,"seg":"9"},{"t":7650,"v":80,"seg":"9"}
    ],
    "bot_fix": [
      {"series":"Gazepath Fixations","start":760,"end":948},{"series":"Gazepath Fixations","start":1668,"end":1770},{"series":"Gazepath Fixations","start":1937,"end":2181},{"series":"Gazepath Fixations","start":2231,"end":2759},{"series":"Gazepath Fixations","start":2790,"end":3906},{"series":"Gazepath Fixations","start":4058,"end":4423},{"series":"Gazepath Fixations","start":5199,"end":5301},{"series":"Gazepath Fixations","start":5782,"end":6265},{"series":"Gazepath Fixations","start":6290,"end":6772},{"series":"Gazepath Fixations","start":7174,"end":7630},
      {"series":"Tobii Fixations","start":35,"end":172},{"series":"Tobii Fixations","start":476,"end":568},{"series":"Tobii Fixations","start":760,"end":963},{"series":"Tobii Fixations","start":963,"end":1201},{"series":"Tobii Fixations","start":1201,"end":1329},{"series":"Tobii Fixations","start":1329,"end":1633},{"series":"Tobii Fixations","start":1633,"end":1785},{"series":"Tobii Fixations","start":1785,"end":1911},{"series":"Tobii Fixations","start":1911,"end":2200},{"series":"Tobii Fixations","start":2200,"end":2775},{"series":"Tobii Fixations","start":2775,"end":3941},{"series":"Tobii Fixations","start":3941,"end":4464},{"series":"Tobii Fixations","start":4464,"end":4575},{"series":"Tobii Fixations","start":4575,"end":4677},{"series":"Tobii Fixations","start":4677,"end":4804},{"series":"Tobii Fixations","start":4804,"end":4930},{"series":"Tobii Fixations","start":4930,"end":5073},{"series":"Tobii Fixations","start":5073,"end":5336},{"series":"Tobii Fixations","start":5347,"end":5504},{"series":"Tobii Fixations","start":5727,"end":6006},{"series":"Tobii Fixations","start":6006,"end":6275},{"series":"Tobii Fixations","start":6275,"end":6793},{"series":"Tobii Fixations","start":7052,"end":7163},{"series":"Tobii Fixations","start":7163,"end":7655},{"series":"Tobii Fixations","start":7655,"end":7837}
    ],
    "bot_lab": [
      {"t":1288,"v":101,"label":"E"},{"t":4667,"v":101,"label":"F"}
    ]
  },
  "vconcat": [
    {
      "width": 526,
      "height": 208.3,
      "layer": [
        {
          "layer": [
            {
              "data": {"name": "top_pos"},
              "mark": {"type": "line", "strokeWidth": 1.2},
              "encoding": {
                "x": {"field": "t", "type": "quantitative", "scale": {"domain": [0, 8000], "nice": false, "zero": false}, "axis": {"title": "Time (msec.)", "values": [0, 2000, 4000, 6000, 8000], "format": "d"}},
                "y": {"field": "v", "type": "quantitative", "scale": {"domain": [0, 1200], "range": [118.7, 0], "nice": false, "zero": false}, "axis": {"title": "Position (pixels)", "values": [0, 400, 800, 1200], "format": "d", "orient": "left", "titlePadding": 2}},
                "color": {"field": "series", "type": "nominal",
                  "scale": {"domain": ["X-coordinates", "Y-coordinates", "Gazepath Fixations", "Tobii Fixations", "Speed"], "range": ["#00FFFF", "#0000FF", "#00CD00", "#FF0000", "#000000"]},
                  "legend": {"title": null, "orient": "none", "legendX": -12.4, "legendY": -16, "direction": "horizontal", "columns": 5, "gridAlign": "all", "symbolType": "stroke", "symbolSize": 220, "symbolStrokeWidth": 3.5, "labelFontSize": 9, "labelOffset": 6, "columnPadding": -2, "rowPadding": 0, "padding": 0}},
                "detail": {"field": "seg", "type": "nominal"}
              }
            },
            {
              "data": {"name": "top_lab"},
              "mark": {"type": "text", "fontSize": 18, "font": "Liberation Sans", "align": "center", "baseline": "middle", "color": "#000000"},
              "encoding": {
                "x": {"field": "t", "type": "quantitative"},
                "y": {"field": "v", "type": "quantitative", "axis": {"title": "Position (pixels)", "values": [0, 400, 800, 1200], "format": "d", "orient": "left", "titlePadding": 2}},
                "text": {"field": "label"}
              }
            }
          ]
        },
        {
          "layer": [
            {
              "data": {"name": "top_speed"},
              "mark": {"type": "line", "strokeWidth": 1},
              "encoding": {
                "x": {"field": "t", "type": "quantitative"},
                "y": {"field": "v", "type": "quantitative", "scale": {"domain": [0, 800], "range": [128, 208.3], "nice": false, "zero": false}, "axis": {"title": "Speed (Deg/s)", "values": [0, 400, 800], "format": "d", "orient": "left", "titlePadding": 7.8}},
                "color": {"datum": "Speed"},
                "detail": {"field": "seg", "type": "nominal"}
              }
            },
            {
              "data": {"name": "top_fix"},
              "transform": [{"filter": "datum.series == 'Gazepath Fixations'"}],
              "mark": {"type": "rect", "fill": "#00CD00", "stroke": "#000000", "strokeWidth": 1},
              "encoding": {
                "x": {"field": "start", "type": "quantitative"},
                "x2": {"field": "end"},
                "y": {"datum": -97, "type": "quantitative", "axis": {"title": "Speed (Deg/s)", "values": [0, 400, 800], "format": "d", "orient": "left", "titlePadding": 7.8}},
                "y2": {"datum": -57}
              }
            },
            {
              "data": {"name": "top_fix"},
              "transform": [{"filter": "datum.series == 'Tobii Fixations'"}],
              "mark": {"type": "rect", "fill": "#FF0000", "stroke": "#000000", "strokeWidth": 1},
              "encoding": {
                "x": {"field": "start", "type": "quantitative"},
                "x2": {"field": "end"},
                "y": {"datum": -50, "type": "quantitative", "axis": {"title": "Speed (Deg/s)", "values": [0, 400, 800], "format": "d", "orient": "left", "titlePadding": 7.8}},
                "y2": {"datum": -3}
              }
            }
          ]
        }
      ],
      "resolve": {"scale": {"y": "independent"}}
    },
    {
      "width": 526,
      "height": 208.3,
      "layer": [
        {
          "layer": [
            {
              "data": {"name": "bot_pos"},
              "mark": {"type": "line", "strokeWidth": 1.2},
              "encoding": {
                "x": {"field": "t", "type": "quantitative", "scale": {"domain": [0, 8000], "nice": false, "zero": false}, "axis": {"title": "Time (msec.)", "values": [0, 2000, 4000, 6000, 8000], "format": "d"}},
                "y": {"field": "v", "type": "quantitative", "scale": {"domain": [0, 1200], "range": [118.7, 0], "nice": false, "zero": false}, "axis": {"title": "Position (pixels)", "values": [0, 400, 800, 1200], "format": "d", "orient": "left", "titlePadding": 2}},
                "color": {"field": "series", "type": "nominal",
                  "scale": {"domain": ["X-coordinates", "Y-coordinates", "Gazepath Fixations", "Tobii Fixations", "Speed"], "range": ["#00FFFF", "#0000FF", "#00CD00", "#FF0000", "#000000"]},
                  "legend": {"title": null, "orient": "none", "legendX": -12.4, "legendY": -16, "direction": "horizontal", "columns": 5, "gridAlign": "all", "symbolType": "stroke", "symbolSize": 220, "symbolStrokeWidth": 3.5, "labelFontSize": 9, "labelOffset": 6, "columnPadding": -2, "rowPadding": 0, "padding": 0}},
                "detail": {"field": "seg", "type": "nominal"}
              }
            },
            {
              "data": {"name": "bot_lab"},
              "mark": {"type": "text", "fontSize": 18, "font": "Liberation Sans", "align": "center", "baseline": "middle", "color": "#000000"},
              "encoding": {
                "x": {"field": "t", "type": "quantitative"},
                "y": {"field": "v", "type": "quantitative", "axis": {"title": "Position (pixels)", "values": [0, 400, 800, 1200], "format": "d", "orient": "left", "titlePadding": 2}},
                "text": {"field": "label"}
              }
            }
          ]
        },
        {
          "layer": [
            {
              "data": {"name": "bot_speed"},
              "mark": {"type": "line", "strokeWidth": 1},
              "encoding": {
                "x": {"field": "t", "type": "quantitative"},
                "y": {"field": "v", "type": "quantitative", "scale": {"domain": [0, 800], "range": [128, 208.3], "nice": false, "zero": false}, "axis": {"title": "Speed (Deg/s)", "values": [0, 400, 800], "format": "d", "orient": "left", "titlePadding": 7.8}},
                "color": {"datum": "Speed"},
                "detail": {"field": "seg", "type": "nominal"}
              }
            },
            {
              "data": {"name": "bot_fix"},
              "transform": [{"filter": "datum.series == 'Gazepath Fixations'"}],
              "mark": {"type": "rect", "fill": "#00CD00", "stroke": "#000000", "strokeWidth": 1},
              "encoding": {
                "x": {"field": "start", "type": "quantitative"},
                "x2": {"field": "end"},
                "y": {"datum": -97, "type": "quantitative", "axis": {"title": "Speed (Deg/s)", "values": [0, 400, 800], "format": "d", "orient": "left", "titlePadding": 7.8}},
                "y2": {"datum": -57}
              }
            },
            {
              "data": {"name": "bot_fix"},
              "transform": [{"filter": "datum.series == 'Tobii Fixations'"}],
              "mark": {"type": "rect", "fill": "#FF0000", "stroke": "#000000", "strokeWidth": 1},
              "encoding": {
                "x": {"field": "start", "type": "quantitative"},
                "x2": {"field": "end"},
                "y": {"datum": -50, "type": "quantitative", "axis": {"title": "Speed (Deg/s)", "values": [0, 400, 800], "format": "d", "orient": "left", "titlePadding": 7.8}},
                "y2": {"datum": -3}
              }
            }
          ]
        }
      ],
      "resolve": {"scale": {"y": "independent"}}
    }
  ],
  "spacing": 37,
  "resolve": {"scale": {"color": "independent", "x": "independent", "y": "independent"}},
  "config": {
    "font": "Liberation Sans",
    "view": {"stroke": null},
    "axis": {"grid": false, "domainColor": "#444444", "tickColor": "#444444", "domainWidth": 1.2, "tickWidth": 1.2, "tickSize": 7, "labelPadding": 6, "labelFont": "Liberation Sans", "labelFontSize": 10.5, "labelColor": "#000000", "titleFont": "Liberation Sans", "titleFontSize": 10.5, "titleFontWeight": "normal", "titleColor": "#000000", "labelFlush": false, "labelOverlap": false},
    "axisX": {"offset": 9.4, "titlePadding": 8},
    "axisY": {"offset": 20},
    "legend": {"labelFont": "Liberation Sans", "labelFontSize": 9, "labelColor": "#000000"}
  }
}
